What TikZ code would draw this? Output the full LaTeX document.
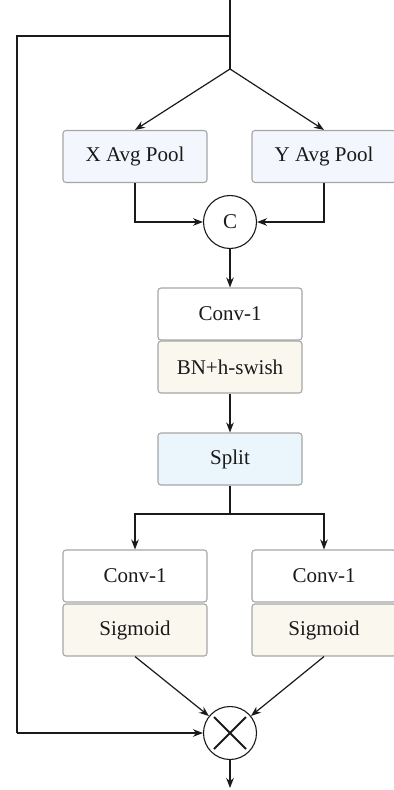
\documentclass[tikz,border=0pt]{standalone}
\usepackage{fontspec}
\setmainfont{Liberation Serif}
\usetikzlibrary{arrows.meta}
\definecolor{poolfill}{HTML}{F3F6FC}
\definecolor{splitfill}{HTML}{EBF5FC}
\definecolor{actfill}{HTML}{F9F7EE}
\definecolor{boxline}{HTML}{A6A6A6}
\definecolor{ink}{HTML}{1A1A1A}
\tikzset{
  blk/.style={draw=boxline, line width=0.55pt, rounded corners=1.5pt,
    minimum width=72pt, minimum height=26pt, inner sep=0pt,
    font=\fontsize{10.5}{12}\selectfont, text=ink},
  opnode/.style={circle, draw=ink, line width=0.55pt, minimum size=26.5pt,
    inner sep=0pt, font=\fontsize{10.5}{12}\selectfont, text=ink},
  wire/.style={draw=ink, line width=0.6pt},
  arr/.style={wire, -{Stealth[length=5pt,width=3.8pt]}},
}
\begin{document}
\begin{tikzpicture}[x=0.5pt, y=-0.5pt]
\useasboundingbox (0,0) rectangle (394,790);

% pooling stage
\node[blk, fill=poolfill] (xpool) at (135,156.5) {X Avg Pool};
\node[blk, fill=poolfill] (ypool) at (324,156.5) {Y Avg Pool};
\node[opnode] (cat) at (230,222) {C};

% shared conv + activation
\node[blk, fill=white] (conv) at (230,314) {Conv-1};
\node[blk, fill=actfill] (bn) at (230,367) {BN+h-swish};
\node[blk, fill=splitfill] (split) at (230,459) {Split};

% two branches
\node[blk, fill=white] (convL) at (135,576) {Conv-1};
\node[blk, fill=actfill] (sigL) at (135,630) {Sigmoid};
\node[blk, fill=white] (convR) at (324,576) {Conv-1};
\node[blk, fill=actfill] (sigR) at (324,630) {Sigmoid};

% multiplication
\node[opnode] (mul) at (230,733) {};
\draw[ink, line width=1pt] (mul.center) +(-16,-16) -- +(16,16)
                           (mul.center) +(-16,16) -- +(16,-16);

% input, skip branch, fork
\coordinate (in) at (230,0);
\coordinate (tap) at (230,36);
\coordinate (fork) at (230,69);
\coordinate (skipTop) at (17,36);
\coordinate (skipBot) at (17,733);
\coordinate (splitFork) at (230,514);
\coordinate (out) at (230,788);

\draw[wire] (in) -- (fork);
\draw[wire] (tap) -- (skipTop) -- (skipBot);
\draw[arr] (skipBot) -- (mul.west);
\draw[arr] (fork) -- (xpool.north);
\draw[arr] (fork) -- (ypool.north);

\draw[arr] (xpool.south) |- (cat.west);
\draw[arr] (ypool.south) |- (cat.east);
\draw[arr] (cat.south) -- (conv.north);
\draw[arr] (bn.south) -- (split.north);

\draw[wire] (split.south) -- (splitFork);
\draw[arr] (splitFork) -| (convL.north);
\draw[arr] (splitFork) -| (convR.north);

\draw[arr] (sigL.south) -- (mul);
\draw[arr] (sigR.south) -- (mul);
\draw[arr] (mul.south) -- (out);
\end{tikzpicture}
\end{document}
